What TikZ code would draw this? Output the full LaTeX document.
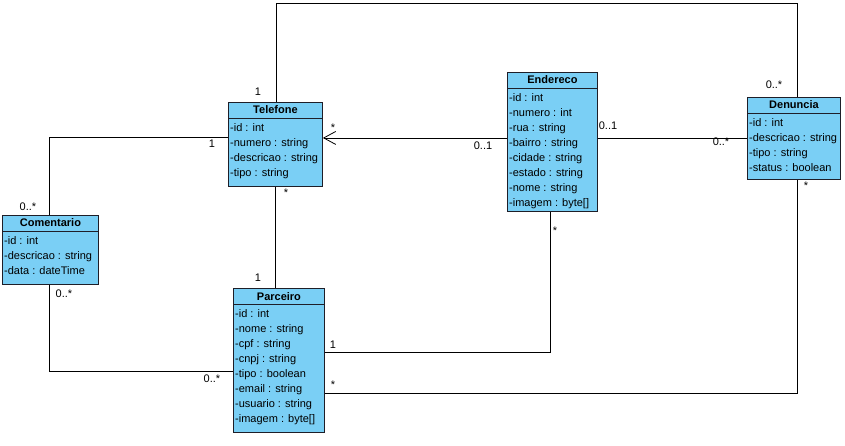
\documentclass[tikz,border=0pt]{standalone}
\usepackage{fontspec}
\setmainfont{Liberation Sans}
\usetikzlibrary{arrows.meta}

\definecolor{classfill}{RGB}{122,207,245}
\definecolor{classedge}{RGB}{30,30,40}

\newcommand{\umlfont}{\fontsize{11}{13}\selectfont}

\tikzset{
  classbox/.style={draw=classedge, fill=classfill, line width=0.9pt, anchor=north west, inner sep=0pt},
  classtitle/.style={font=\umlfont\bfseries, anchor=base, inner sep=0pt},
  attrtext/.style={font=\umlfont, anchor=base west, inner sep=0pt},
  assoc/.style={draw=black, line width=0.8pt},
  mult/.style={font=\umlfont, anchor=base, inner sep=0pt}
}

% id, x, y, width, height, title, attributes
\newcommand{\umlclass}[7]{%
  \node[classbox, minimum width=#4pt, minimum height=#5pt] (#1) at (#2,#3) {};
  \draw[classedge, line width=0.9pt] ([yshift=-16.5pt]#1.north west) -- ([yshift=-16.5pt]#1.north east);
  \node[classtitle] (#1-title) at ([yshift=-12pt]#1.north) {#6};
  \foreach \attr [count=\k] in {#7}
    \node[attrtext] (#1-attr\k) at ([xshift=2pt, yshift={-14.5pt-15pt*\k}]#1.north west) {\attr};
}

\begin{document}
\begin{tikzpicture}[x=1pt,y=-1pt]
\useasboundingbox (0,0) rectangle (845,446);

% classes
\umlclass{tel}{228}{102}{94}{84}{Telefone}{-id : int, -numero : string, -descricao : string, -tipo : string}
\umlclass{end}{507}{72}{90}{139}{Endereco}{-id : int, -numero : int, -rua : string, -bairro : string, -cidade : string, -estado : string, -nome : string, -imagem : byte[]}
\umlclass{den}{747}{97}{93}{82}{Denuncia}{-id : int, -descricao : string, -tipo : string, -status : boolean}
\umlclass{com}{2}{215}{96}{69}{Comentario}{-id : int, -descricao : string, -data : dateTime}
\umlclass{par}{233}{288}{91}{144}{Parceiro}{-id : int, -nome : string, -cpf : string, -cnpj : string, -tipo : boolean, -email : string, -usuario : string, -imagem : byte[]}

% associations
\coordinate (topR) at (797,3);
\draw[assoc] ([xshift=1pt]tel.north) |- (topR) -- (topR |- den.north);
\draw[assoc] ([yshift=7pt]tel.west) -| ([xshift=-1pt]com.north);
\draw[assoc, -{Straight Barb[length=12pt,width=13pt]}] ([yshift=4pt]end.west) -- ([yshift=4pt]end.west -| tel.east);
\draw[assoc] (den.west -| end.east) -- (den.west);
\draw[assoc] (tel.south) -- (tel.south |- par.north);
\draw[assoc] ([xshift=-1pt]com.south) |- ([yshift=-11pt]par.west);
\draw[assoc] ([yshift=8pt]par.east) -| ([xshift=-2pt]end.south);
\draw[assoc] ([yshift=-33pt]par.east) -| (topR |- den.south);

% multiplicities
\node[mult] (m-tel-den) at (258,96) {1};
\node[mult] (m-den-tel) at (774,89) {0..*};
\node[mult] (m-tel-com) at (212,148) {1};
\node[mult] (m-com-tel) at (28,211) {0..*};
\node[mult] (m-tel-end) at (333,132) {*};
\node[mult] (m-end-tel) at (483,150) {0..1};
\node[mult] (m-end-den) at (608,130) {0..1};
\node[mult] (m-den-end) at (721,146) {0..*};
\node[mult] (m-tel-par) at (286,197) {*};
\node[mult] (m-par-tel) at (258,281) {1};
\node[mult] (m-com-par) at (64,297) {0..*};
\node[mult] (m-par-com) at (212,382) {0..*};
\node[mult] (m-par-end) at (333,348) {1};
\node[mult] (m-end-par) at (555,234) {*};
\node[mult] (m-par-den) at (333,388) {*};
\node[mult] (m-den-par) at (806,190) {*};
\end{tikzpicture}
\end{document}
